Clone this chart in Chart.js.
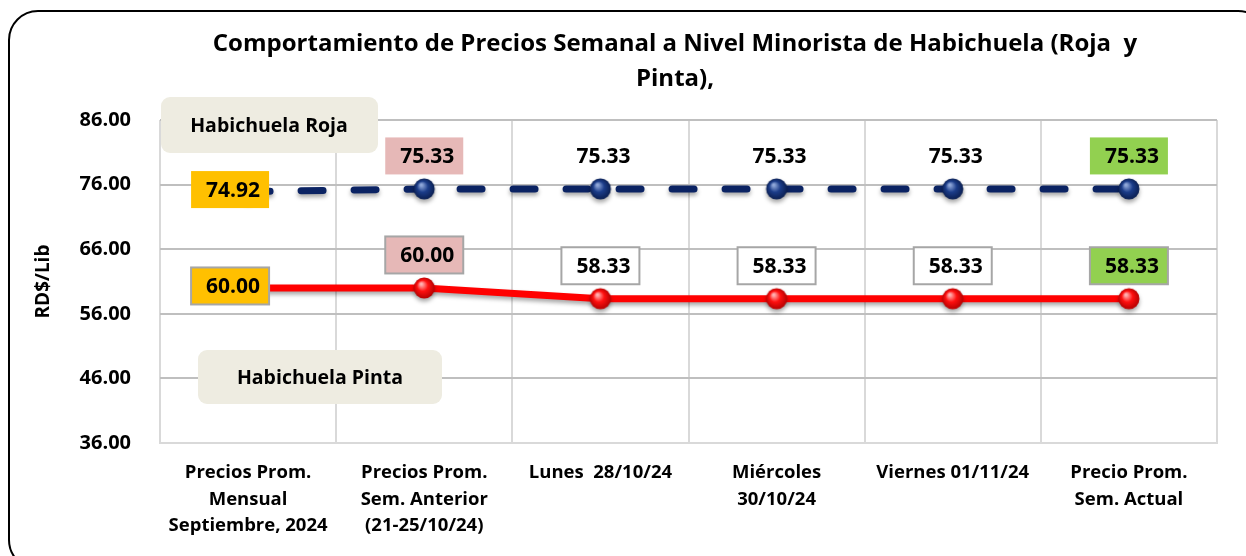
<!DOCTYPE html>
<html>
<head>
<meta charset="utf-8">
<script src="https://cdn.jsdelivr.net/npm/chart.js@4.4.1/dist/chart.umd.min.js"></script>
<style>
  html, body { margin: 0; padding: 0; background: #fff; overflow: hidden; }
  #wrap { position: relative; width: 1246px; height: 556px; }
  #frame { position: absolute; left: 8px; top: 10px; width: 1260px; height: 560px;
           border: 2px solid #000; border-radius: 30px; box-sizing: border-box; }
  canvas { position: absolute; left: 0; top: 0; }
</style>
</head>
<body>
<div id="wrap">
  <div id="frame"></div>
  <canvas id="myChart" width="1246" height="556"></canvas>
</div>
<script>
// datos
const categorias = [
  ['Precios Prom.', 'Mensual', 'Septiembre, 2024'],
  ['Precios Prom.', 'Sem. Anterior', '(21-25/10/24)'],
  'Lunes  28/10/24',
  ['Miércoles', '30/10/24'],
  'Viernes 01/11/24',
  ['Precio Prom.', 'Sem. Actual']
];
const habichuelaRoja = [74.92, 75.33, 75.33, 75.33, 75.33, 75.33];
const habichuelaPinta = [60.00, 60.00, 58.33, 58.33, 58.33, 58.33];
const yTicks = [36, 46, 56, 66, 76, 86];

// colores de las etiquetas
const rojaFondo = ['#FFC000', '#E6B8B7', null, null, null, '#92D050'];
const pintaFondo = ['#FFC000', '#E6B8B7', '#FFFFFF', '#FFFFFF', '#FFFFFF', '#92D050'];

const FONT = '"Open Sans", Lato, sans-serif';

function esfera(c1, c2, c3) {
  const c = document.createElement('canvas');
  c.width = 24; c.height = 24;
  const g = c.getContext('2d');
  const grad = g.createRadialGradient(9, 8, 1, 12, 12, 11);
  grad.addColorStop(0, c1);
  grad.addColorStop(0.45, c2);
  grad.addColorStop(1, c3);
  g.fillStyle = grad;
  g.beginPath(); g.arc(12, 12, 10.5, 0, Math.PI * 2); g.fill();
  return c;
}
const puntoAzul = esfera('#8ea6d8', '#1c3d8a', '#0a1d4d');
const puntoRojo = esfera('#ffb0b0', '#ff1010', '#b00000');

function roundRect(ctx, x, y, w, h, r) {
  ctx.beginPath();
  ctx.moveTo(x + r, y);
  ctx.arcTo(x + w, y, x + w, y + h, r);
  ctx.arcTo(x + w, y + h, x, y + h, r);
  ctx.arcTo(x, y + h, x, y, r);
  ctx.arcTo(x, y, x + w, y, r);
  ctx.closePath();
}

const extras = {
  id: 'extras',
  beforeDatasetDraw(chart) {
    const ctx = chart.ctx;
    ctx.save();
    ctx.shadowColor = 'rgba(0,0,0,0.35)';
    ctx.shadowBlur = 4;
    ctx.shadowOffsetY = 3;
  },
  afterDatasetDraw(chart) {
    chart.ctx.restore();
  },
  afterDatasetsDraw(chart) {
    const ctx = chart.ctx;
    const a = chart.chartArea;
    ctx.save();
    // titulo
    ctx.fillStyle = '#000';
    ctx.font = 'bold 24px ' + FONT;
    ctx.textAlign = 'center';
    ctx.textBaseline = 'middle';
    ctx.fillText('Comportamiento de Precios Semanal a Nivel Minorista de Habichuela (Roja  y', 675, 44);
    ctx.fillText('Pinta),', 675, 79);

    // cajas de nombre
    ctx.font = 'bold 19.5px ' + FONT;
    ctx.fillStyle = '#EEECE1';
    roundRect(ctx, a.left + 1, 97, 217, 56, 9); ctx.fill();
    roundRect(ctx, 198, 350, 244, 54, 9); ctx.fill();
    ctx.fillStyle = '#000';
    ctx.fillText('Habichuela Roja', a.left + 109, 126);
    ctx.fillText('Habichuela Pinta', 320, 378);

    // etiquetas de datos
    ctx.font = 'bold 21px ' + FONT;
    const w = 78, h = 37;
    const dibujar = (metaIdx, valores, fondos, borde) => {
      const meta = chart.getDatasetMeta(metaIdx);
      meta.data.forEach((pt, i) => {
        let cx = pt.x, cy = pt.y - 33;
        if (i === 0) { cx = pt.x - 18; cy = pt.y - 2; }
        const x = cx - w / 2, y = cy - h / 2;
        if (fondos[i]) {
          ctx.fillStyle = fondos[i];
          ctx.fillRect(x, y, w, h);
        }
        if (borde) {
          ctx.strokeStyle = '#A6A6A6';
          ctx.lineWidth = 2;
          ctx.strokeRect(x, y, w, h);
        }
        ctx.fillStyle = '#000';
        ctx.fillText(valores[i].toFixed(2), cx + 3, cy + 1);
      });
    };
    dibujar(0, habichuelaRoja, rojaFondo, false);
    dibujar(1, habichuelaPinta, pintaFondo, true);
    ctx.restore();
  }
};

new Chart(document.getElementById('myChart'), {
  type: 'line',
  data: {
    labels: categorias,
    datasets: [{
      label: 'Habichuela Roja',
      data: habichuelaRoja,
      borderColor: '#0b2363',
      borderWidth: 7,
      borderDash: [22, 31],
      borderCapStyle: 'round',
      pointStyle: puntoAzul,
      pointRadius: 11,
      tension: 0
    }, {
      label: 'Habichuela Pinta',
      data: habichuelaPinta,
      borderColor: '#FF0000',
      borderWidth: 7,
      borderCapStyle: 'round',
      pointStyle: puntoRojo,
      pointRadius: 11,
      tension: 0
    }]
  },
  options: {
    responsive: false,
    animation: false,
    layout: { padding: { top: 120, left: 32, right: 29, bottom: 0 } },
    plugins: {
      legend: { display: false },
      tooltip: { enabled: false },
      title: { display: false }
    },
    scales: {
      x: {
        offset: true,
        grid: { offset: true, color: '#D9D9D9', lineWidth: 2, drawTicks: false },
        border: { color: '#D9D9D9', width: 2 },
        ticks: {
          color: '#000', maxRotation: 0, autoSkip: false, padding: 17,
          font: { family: FONT, size: 18.5, weight: 'bold', lineHeight: 1.42 }
        },
        afterFit: s => { s.height = 113; }
      },
      y: {
        min: 36, max: 86,
        afterBuildTicks: s => { s.ticks = yTicks.map(v => ({ value: v })); },
        grid: { color: '#BFBFBF', lineWidth: 2, drawTicks: false },
        border: { display: false },
        ticks: {
          color: '#000', padding: 29,
          font: { family: FONT, size: 20, weight: 'bold' },
          callback: v => Number(v).toFixed(2)
        },
        title: {
          display: true, text: 'RD$/Lib', color: '#000',
          font: { family: FONT, size: 19, weight: 'bold' },
          padding: { top: 0, bottom: 0 }
        },
        afterFit: s => { s.width = 128; }
      }
    }
  },
  plugins: [extras]
});
</script>
</body>
</html>
